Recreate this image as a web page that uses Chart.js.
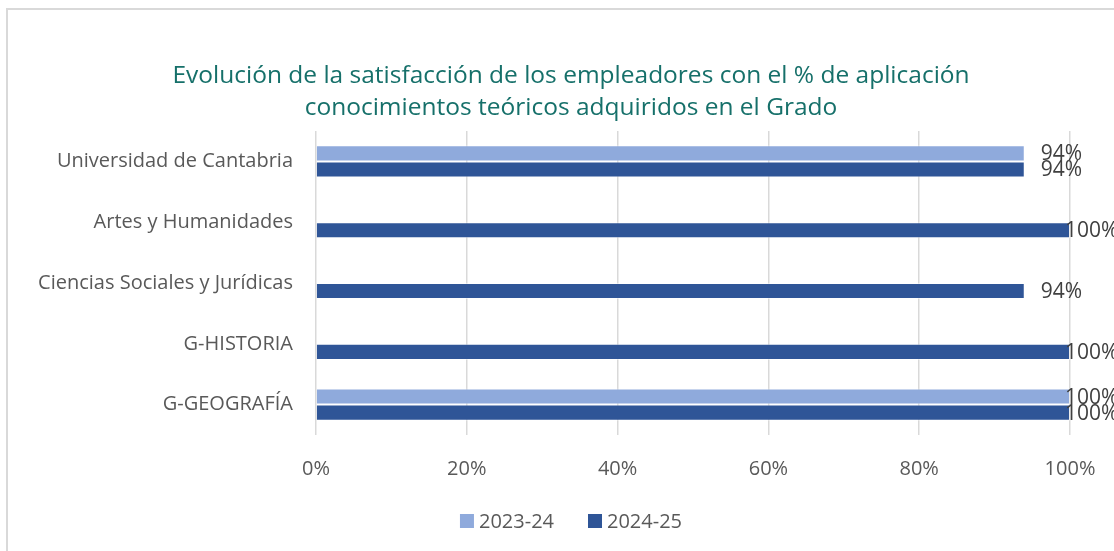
<!DOCTYPE html>
<html>
<head>
<meta charset="utf-8">
<script src="https://cdn.jsdelivr.net/npm/chart.js@4"></script>
<style>
  html, body { margin: 0; padding: 0; background: #fff; }
  #wrap { position: relative; width: 1114px; height: 551px; overflow: hidden; }
  #marco { position: absolute; left: 6px; top: 8px; width: 1130px; height: 570px; border: 2px solid #d9d9d9; }
  #grafico { position: absolute; left: 0; top: 0; }
</style>
</head>
<body>
<div id="wrap">
  <div id="marco"></div>
  <canvas id="grafico" width="1114" height="551"></canvas>
</div>
<script>
// categorias y valores (%)
const categorias = ['Universidad de Cantabria', 'Artes y Humanidades', 'Ciencias Sociales y Jurídicas', 'G-HISTORIA', 'G-GEOGRAFÍA'];
const curso2324 = [94, null, null, null, 100];
const curso2425 = [94, 100, 94, 100, 100];
const ticksX = [0, 20, 40, 60, 80, 100];
const titulo = ['Evolución de la satisfacción de los empleadores con el % de aplicación', 'conocimientos teóricos adquiridos en el Grado'];

const fuente = '"Open Sans", "Noto Sans", sans-serif';
const colores = ['#8faadc', '#2f5597'];
const centroX = 571; // el marco del grafico es mas ancho que la ventana

// etiquetas de valor a la derecha de cada barra
const etiquetas = {
    id: 'etiquetas',
    afterDatasetsDraw(chart) {
        const ctx = chart.ctx;
        ctx.save();
        ctx.font = '21px ' + fuente;
        ctx.fillStyle = '#404040';
        ctx.textBaseline = 'middle';
        ctx.textAlign = 'left';
        chart.data.datasets.forEach((ds, i) => {
            chart.getDatasetMeta(i).data.forEach((bar, j) => {
                const v = ds.data[j];
                if (v === null) return;
                let x = Math.min(bar.x + 16, chart.width - 49);
                ctx.fillText(v + '%', x, bar.y + 1);
            });
        });
        ctx.restore();
    }
};

// titulo y leyenda centrados sobre el marco
const cabecera = {
    id: 'cabecera',
    afterDraw(chart) {
        const ctx = chart.ctx;
        ctx.save();
        ctx.textBaseline = 'middle';
        ctx.textAlign = 'center';
        ctx.font = '24.5px ' + fuente;
        ctx.fillStyle = '#16706a';
        ctx.fillText(titulo[0], centroX, 76);
        ctx.fillText(titulo[1], centroX, 108);

        // leyenda
        ctx.font = '20px ' + fuente;
        ctx.textAlign = 'left';
        const caja = 14, hueco = 5, sep = 34;
        const items = chart.data.datasets.map((ds, i) => ({ texto: ds.label, color: colores[i], w: ctx.measureText(ds.label).width }));
        let total = items.reduce((s, it) => s + caja + hueco + it.w, 0) + sep * (items.length - 1);
        let x = centroX - total / 2;
        const y = 521;
        items.forEach(it => {
            ctx.fillStyle = it.color;
            ctx.fillRect(x, y - caja / 2, caja, caja);
            ctx.fillStyle = '#595959';
            ctx.fillText(it.texto, x + caja + hueco, y + 1);
            x += caja + hueco + it.w + sep;
        });
        ctx.restore();
    }
};

const ctx = document.getElementById('grafico').getContext('2d');
new Chart(ctx, {
    type: 'bar',
    data: {
        labels: categorias,
        datasets: [
            {
                label: '2023-24',
                data: curso2324,
                backgroundColor: colores[0],
                borderColor: 'rgba(255,255,255,0.5)',
                borderWidth: 1,
                barPercentage: 1,
                categoryPercentage: 0.53
            },
            {
                label: '2024-25',
                data: curso2425,
                backgroundColor: colores[1],
                borderColor: 'rgba(255,255,255,0.5)',
                borderWidth: 1,
                barPercentage: 1,
                categoryPercentage: 0.53
            }
        ]
    },
    options: {
        indexAxis: 'y',
        responsive: false,
        animation: false,
        layout: { padding: { top: 131, right: 44, bottom: 48, left: 0 } },
        scales: {
            x: {
                min: 0,
                max: 100,
                afterBuildTicks: (scale) => { scale.ticks = ticksX.map(v => ({ value: v })); },
                afterFit: (scale) => { scale.paddingRight = 0; },
                grid: { color: '#d9d9d9', lineWidth: 1.5, drawTicks: false },
                border: { display: false },
                ticks: {
                    padding: 22,
                    color: '#595959',
                    font: { family: fuente, size: 20 },
                    callback: (v) => v + '%'
                }
            },
            y: {
                afterFit: (scale) => { scale.width = 316; },
                grid: { display: false },
                border: { display: false },
                ticks: {
                    padding: 15,
                    color: '#595959',
                    font: { family: fuente, size: 20 }
                }
            }
        },
        plugins: {
            title: { display: false },
            legend: { display: false },
            tooltip: { enabled: false }
        }
    },
    plugins: [etiquetas, cabecera]
});
</script>
</body>
</html>
